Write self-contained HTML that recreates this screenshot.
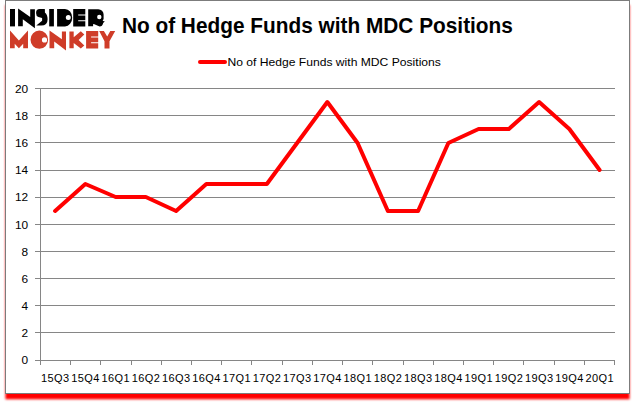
<!DOCTYPE html>
<html><head><meta charset="utf-8"><style>
html,body{margin:0;padding:0;background:#fff;}
body{width:635px;height:405px;position:relative;overflow:hidden;}
svg{position:absolute;left:0;top:0;}
.ax{font-family:"Liberation Sans",sans-serif;font-size:11px;fill:#000;}
.lg{font-family:"Liberation Sans",sans-serif;font-size:10.5px;fill:#000;}
.tt{font-family:"Liberation Sans",sans-serif;font-size:21.3px;font-weight:bold;fill:#000;}
</style></head><body>
<svg width="635" height="405" viewBox="0 0 635 405">
<defs><filter id="sb" x="-5%" y="-5%" width="110%" height="110%"><feGaussianBlur stdDeviation="1.1"/></filter></defs>
<rect x="5.4" y="5" width="624.20" height="394.30" fill="#ff0000" filter="url(#sb)"/>
<rect x="5.5" y="0.5" width="624" height="393" fill="#ffffff" stroke="#7c7c7c" stroke-width="1"/>
<g fill="#000000">
<rect x="10" y="9" width="5" height="17.4"/>
<polygon points="18.1,8.4 30.2,16.9 30.2,9.2 34.9,9.2 34.9,28.3 22.8,19.3 22.8,26.2 18.1,26.2"/>
<path d="M39.6,9.1 H44.6 Q44.9,9.1 44.9,9.6 V12.4 Q47.6,14.6 47.6,19.2 Q47.6,25.6 41.2,25.6 H36.3 L42.1,20.8 V18 L38.4,17 Q36.1,16.3 36.1,13.2 V12.6 Q36.1,9.1 39.6,9.1 Z"/>
<rect x="49.2" y="9" width="4.7" height="17.4"/>
<path fill-rule="evenodd" d="M57.1,9 H65 A7.2,8.7 0 0 1 65,26.4 H57.1 Z M68.3,17.6 m-2.5,0 a2.5,2.5 0 1 0 5,0 a2.5,2.5 0 1 0 -5,0 Z"/>
<path d="M73.2,9 H85.3 V14.4 H78.2 V15.4 H85.3 V20.3 H78.2 V21.3 H85.3 V26.4 H73.2 Z"/>
<path fill-rule="evenodd" d="M88.2,9.2 H98.3 A5.3,5.3 0 0 1 103.6,14.5 V19 L102.6,20.9 L104.8,21.3 L103.2,23 Q102.4,26.6 99.6,26.6 L93.8,24 L93.1,24.2 V26.3 H88.2 Z M99.3,17.05 m-2.2,0 a2.2,2.2 0 1 0 4.4,0 a2.2,2.2 0 1 0 -4.4,0 Z"/>
</g>
<g fill="#cf3c28">
<polygon points="10,30.5 18.9,40.4 28,30.5 28,48.3 23.2,48.3 23.2,43.8 18.9,48.3 14.7,43.8 14.7,48.3 10,48.3"/>
<path fill-rule="evenodd" d="M39.3,39.7 m-8.8,0 a8.8,9.1 0 1 0 17.6,0 a8.8,9.1 0 1 0 -17.6,0 Z M44.5,39.9 m-2.6,0 a2.6,2.6 0 1 0 5.2,0 a2.6,2.6 0 1 0 -5.2,0 Z"/>
<polygon points="49.5,30.4 61.9,39.2 61.9,31.5 66,31.5 66,50.6 54.2,41.6 54.2,48.2 49.5,48.2"/>
<polygon points="69.4,31.4 73.7,31.4 73.7,37.2 80.8,31.2 84.3,34.4 78.6,40.1 84.3,45.5 80.8,48.4 73.7,43.1 73.7,48.3 69.4,48.3"/>
<path d="M86.1,31 H98.2 V36.4 H91.1 V37.4 H98.2 V42.3 H91.1 V43.3 H98.2 V48.5 H86.1 Z"/>
<polygon points="99.2,31 103.9,31 107.2,36.6 110.3,31 115.2,31 109.5,41.3 109.5,48.4 104.5,48.4 104.5,41.3"/>
</g>
<line x1="35" y1="360.5" x2="615" y2="360.5" stroke="#868686" stroke-width="1"/>
<line x1="35" y1="332.5" x2="615" y2="332.5" stroke="#868686" stroke-width="1"/>
<line x1="35" y1="305.5" x2="615" y2="305.5" stroke="#868686" stroke-width="1"/>
<line x1="35" y1="278.5" x2="615" y2="278.5" stroke="#868686" stroke-width="1"/>
<line x1="35" y1="251.5" x2="615" y2="251.5" stroke="#868686" stroke-width="1"/>
<line x1="35" y1="224.5" x2="615" y2="224.5" stroke="#868686" stroke-width="1"/>
<line x1="35" y1="197.5" x2="615" y2="197.5" stroke="#868686" stroke-width="1"/>
<line x1="35" y1="170.5" x2="615" y2="170.5" stroke="#868686" stroke-width="1"/>
<line x1="35" y1="142.5" x2="615" y2="142.5" stroke="#868686" stroke-width="1"/>
<line x1="35" y1="115.5" x2="615" y2="115.5" stroke="#868686" stroke-width="1"/>
<line x1="35" y1="88.5" x2="615" y2="88.5" stroke="#868686" stroke-width="1"/>
<line x1="40.5" y1="88" x2="40.5" y2="365" stroke="#868686" stroke-width="1"/>
<line x1="40.5" y1="360" x2="40.5" y2="365" stroke="#868686" stroke-width="1"/>
<line x1="70.5" y1="360" x2="70.5" y2="365" stroke="#868686" stroke-width="1"/>
<line x1="100.5" y1="360" x2="100.5" y2="365" stroke="#868686" stroke-width="1"/>
<line x1="131.5" y1="360" x2="131.5" y2="365" stroke="#868686" stroke-width="1"/>
<line x1="161.5" y1="360" x2="161.5" y2="365" stroke="#868686" stroke-width="1"/>
<line x1="191.5" y1="360" x2="191.5" y2="365" stroke="#868686" stroke-width="1"/>
<line x1="221.5" y1="360" x2="221.5" y2="365" stroke="#868686" stroke-width="1"/>
<line x1="251.5" y1="360" x2="251.5" y2="365" stroke="#868686" stroke-width="1"/>
<line x1="282.5" y1="360" x2="282.5" y2="365" stroke="#868686" stroke-width="1"/>
<line x1="312.5" y1="360" x2="312.5" y2="365" stroke="#868686" stroke-width="1"/>
<line x1="342.5" y1="360" x2="342.5" y2="365" stroke="#868686" stroke-width="1"/>
<line x1="372.5" y1="360" x2="372.5" y2="365" stroke="#868686" stroke-width="1"/>
<line x1="403.5" y1="360" x2="403.5" y2="365" stroke="#868686" stroke-width="1"/>
<line x1="433.5" y1="360" x2="433.5" y2="365" stroke="#868686" stroke-width="1"/>
<line x1="463.5" y1="360" x2="463.5" y2="365" stroke="#868686" stroke-width="1"/>
<line x1="493.5" y1="360" x2="493.5" y2="365" stroke="#868686" stroke-width="1"/>
<line x1="523.5" y1="360" x2="523.5" y2="365" stroke="#868686" stroke-width="1"/>
<line x1="554.5" y1="360" x2="554.5" y2="365" stroke="#868686" stroke-width="1"/>
<line x1="584.5" y1="360" x2="584.5" y2="365" stroke="#868686" stroke-width="1"/>
<line x1="614.5" y1="360" x2="614.5" y2="365" stroke="#868686" stroke-width="1"/>
<text transform="translate(28.1,364.0) scale(1.08,1)" text-anchor="end" class="ax">0</text>
<text transform="translate(28.1,337.0) scale(1.08,1)" text-anchor="end" class="ax">2</text>
<text transform="translate(28.1,310.0) scale(1.08,1)" text-anchor="end" class="ax">4</text>
<text transform="translate(28.1,283.0) scale(1.08,1)" text-anchor="end" class="ax">6</text>
<text transform="translate(28.1,256.0) scale(1.08,1)" text-anchor="end" class="ax">8</text>
<text transform="translate(28.1,229.0) scale(1.08,1)" text-anchor="end" class="ax">10</text>
<text transform="translate(28.1,201.0) scale(1.08,1)" text-anchor="end" class="ax">12</text>
<text transform="translate(28.1,174.0) scale(1.08,1)" text-anchor="end" class="ax">14</text>
<text transform="translate(28.1,147.0) scale(1.08,1)" text-anchor="end" class="ax">16</text>
<text transform="translate(28.1,120.0) scale(1.08,1)" text-anchor="end" class="ax">18</text>
<text transform="translate(28.1,93.0) scale(1.08,1)" text-anchor="end" class="ax">20</text>
<text x="55.3" y="381.5" text-anchor="middle" class="ax" letter-spacing="0.4">15Q3</text>
<text x="85.5" y="381.5" text-anchor="middle" class="ax" letter-spacing="0.4">15Q4</text>
<text x="115.8" y="381.5" text-anchor="middle" class="ax" letter-spacing="0.4">16Q1</text>
<text x="146.0" y="381.5" text-anchor="middle" class="ax" letter-spacing="0.4">16Q2</text>
<text x="176.3" y="381.5" text-anchor="middle" class="ax" letter-spacing="0.4">16Q3</text>
<text x="206.5" y="381.5" text-anchor="middle" class="ax" letter-spacing="0.4">16Q4</text>
<text x="236.8" y="381.5" text-anchor="middle" class="ax" letter-spacing="0.4">17Q1</text>
<text x="267.1" y="381.5" text-anchor="middle" class="ax" letter-spacing="0.4">17Q2</text>
<text x="297.3" y="381.5" text-anchor="middle" class="ax" letter-spacing="0.4">17Q3</text>
<text x="327.6" y="381.5" text-anchor="middle" class="ax" letter-spacing="0.4">17Q4</text>
<text x="357.8" y="381.5" text-anchor="middle" class="ax" letter-spacing="0.4">18Q1</text>
<text x="388.1" y="381.5" text-anchor="middle" class="ax" letter-spacing="0.4">18Q2</text>
<text x="418.3" y="381.5" text-anchor="middle" class="ax" letter-spacing="0.4">18Q3</text>
<text x="448.6" y="381.5" text-anchor="middle" class="ax" letter-spacing="0.4">18Q4</text>
<text x="478.8" y="381.5" text-anchor="middle" class="ax" letter-spacing="0.4">19Q1</text>
<text x="509.1" y="381.5" text-anchor="middle" class="ax" letter-spacing="0.4">19Q2</text>
<text x="539.3" y="381.5" text-anchor="middle" class="ax" letter-spacing="0.4">19Q3</text>
<text x="569.6" y="381.5" text-anchor="middle" class="ax" letter-spacing="0.4">19Q4</text>
<text x="599.8" y="381.5" text-anchor="middle" class="ax" letter-spacing="0.4">20Q1</text>
<polyline points="55.10,211 85.35,184 115.60,197 145.85,197 176.10,211 206.35,184 236.60,184 266.85,184 297.10,143 327.35,102 357.60,143 387.85,211 418.10,211 448.35,143 478.60,129 508.85,129 539.10,102 569.35,129 599.60,170" fill="none" stroke="#ff0000" stroke-width="4" stroke-linejoin="round" stroke-linecap="round"/>
<line x1="200" y1="62" x2="225" y2="62" stroke="#ff0000" stroke-width="4" stroke-linecap="round"/>
<text x="227.4" y="65.7" class="lg" textLength="213.5" lengthAdjust="spacingAndGlyphs">No of Hedge Funds with MDC Positions</text>
<text x="121.9" y="32.7" class="tt" textLength="391" lengthAdjust="spacingAndGlyphs">No of Hedge Funds with MDC Positions</text>
</svg>
</body></html>
